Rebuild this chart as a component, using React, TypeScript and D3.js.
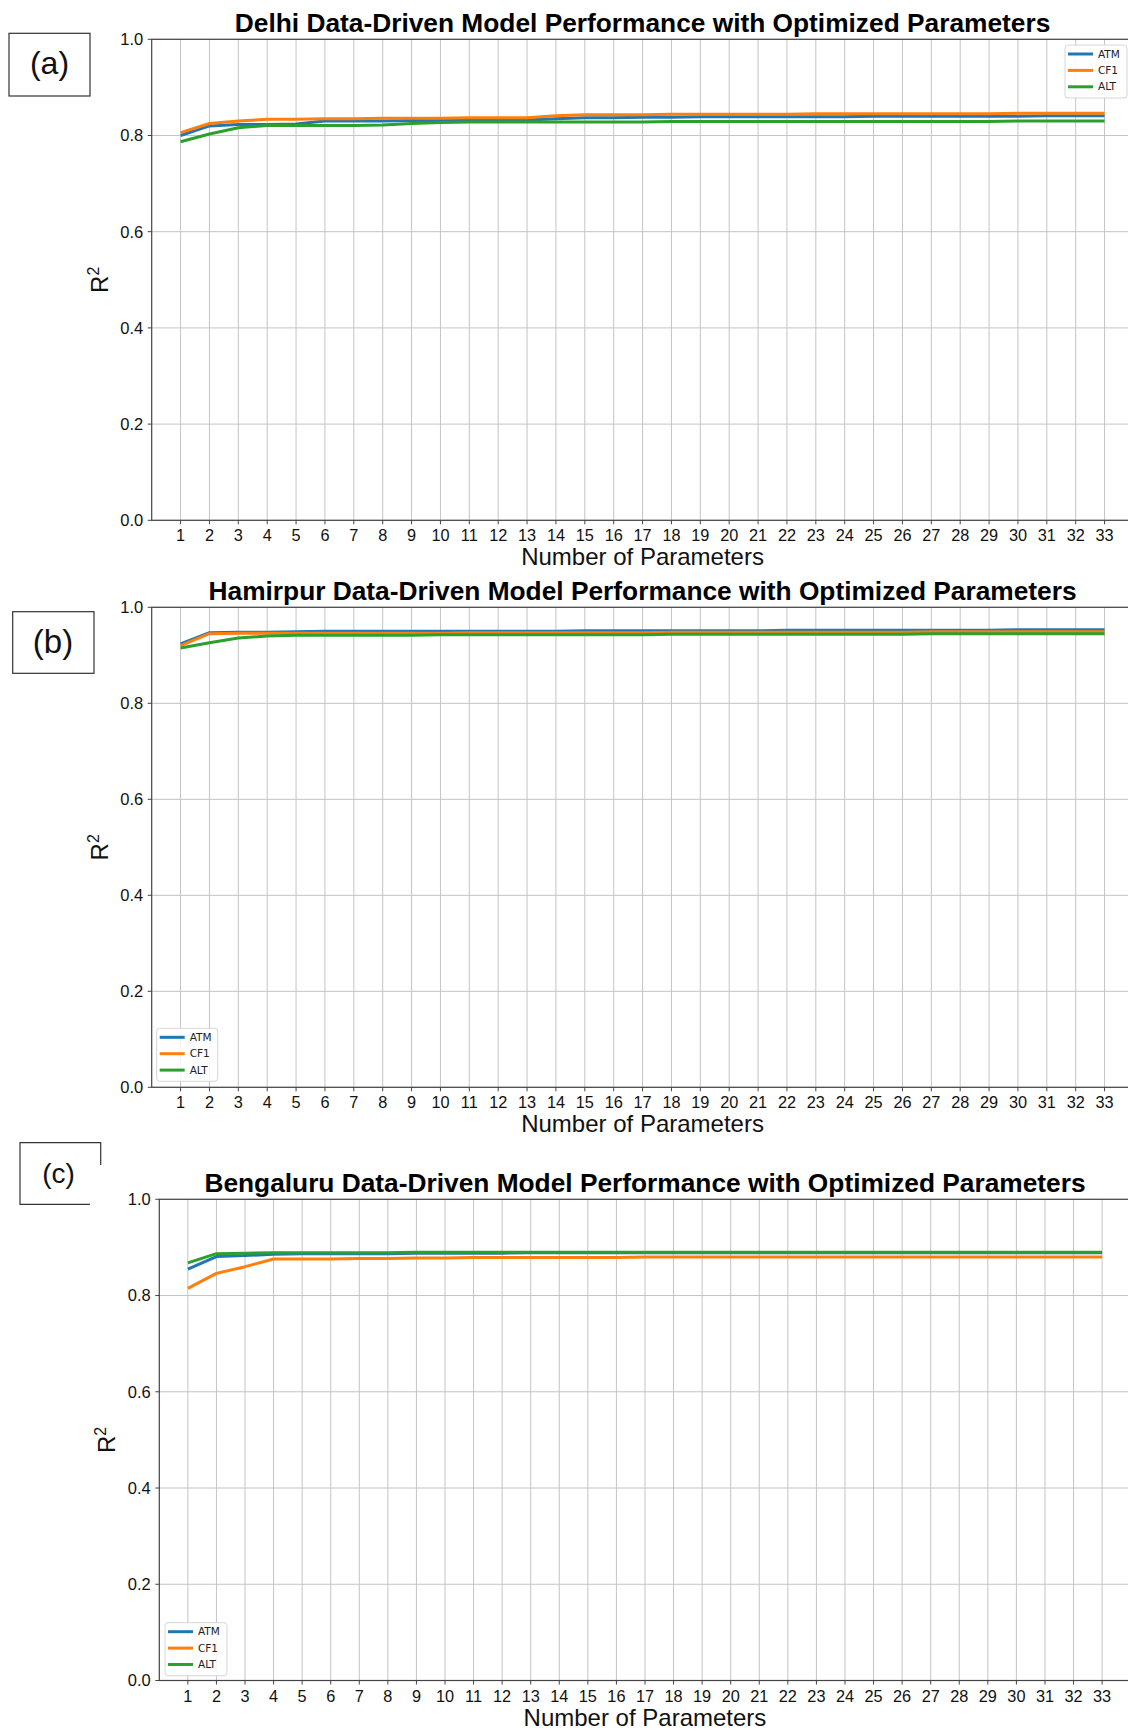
import React from "react";
import * as d3 from "d3";

// ---------- data ----------
const X_PARAMS = [1, 2, 3, 4, 5, 6, 7, 8, 9, 10, 11, 12, 13, 14, 15, 16, 17, 18, 19, 20, 21, 22, 23, 24, 25, 26, 27, 28, 29, 30, 31, 32, 33];
const Y_TICKS = [0, 0.2, 0.4, 0.6, 0.8, 1.0];
const SERIES_NAMES = ["ATM", "CF1", "ALT"];
const SERIES_COLORS = ["#1f77b4", "#ff7f0e", "#2ca02c"];

const DELHI_ATM = [0.800, 0.820, 0.823, 0.823, 0.824, 0.830, 0.830, 0.830, 0.831, 0.831, 0.832, 0.832, 0.832, 0.835, 0.837, 0.837, 0.838, 0.838, 0.839, 0.839, 0.839, 0.839, 0.839, 0.839, 0.840, 0.840, 0.840, 0.840, 0.840, 0.840, 0.841, 0.841, 0.841];
const DELHI_CF1 = [0.806, 0.825, 0.830, 0.834, 0.834, 0.835, 0.835, 0.836, 0.836, 0.836, 0.837, 0.837, 0.837, 0.841, 0.843, 0.843, 0.843, 0.844, 0.844, 0.844, 0.844, 0.844, 0.845, 0.845, 0.845, 0.845, 0.845, 0.845, 0.845, 0.846, 0.846, 0.846, 0.846];
const DELHI_ALT = [0.787, 0.803, 0.816, 0.821, 0.821, 0.821, 0.821, 0.822, 0.825, 0.827, 0.828, 0.828, 0.828, 0.828, 0.828, 0.828, 0.828, 0.829, 0.829, 0.829, 0.829, 0.829, 0.829, 0.829, 0.829, 0.829, 0.829, 0.829, 0.829, 0.830, 0.830, 0.830, 0.830];

const HAMIRPUR_ATM = [0.924, 0.947, 0.948, 0.948, 0.949, 0.950, 0.950, 0.950, 0.950, 0.950, 0.950, 0.950, 0.950, 0.950, 0.951, 0.951, 0.951, 0.951, 0.951, 0.951, 0.951, 0.952, 0.952, 0.952, 0.952, 0.952, 0.952, 0.952, 0.952, 0.953, 0.953, 0.953, 0.953];
const HAMIRPUR_CF1 = [0.920, 0.945, 0.946, 0.946, 0.946, 0.946, 0.946, 0.946, 0.946, 0.946, 0.947, 0.947, 0.947, 0.947, 0.947, 0.947, 0.947, 0.948, 0.948, 0.948, 0.948, 0.948, 0.948, 0.948, 0.948, 0.948, 0.949, 0.949, 0.949, 0.949, 0.949, 0.949, 0.949];
const HAMIRPUR_ALT = [0.915, 0.926, 0.936, 0.940, 0.942, 0.942, 0.942, 0.942, 0.942, 0.943, 0.943, 0.943, 0.943, 0.943, 0.943, 0.943, 0.943, 0.944, 0.944, 0.944, 0.944, 0.944, 0.944, 0.944, 0.944, 0.944, 0.945, 0.945, 0.945, 0.945, 0.945, 0.945, 0.945];

const BENGALURU_ATM = [0.855, 0.881, 0.883, 0.886, 0.887, 0.887, 0.887, 0.887, 0.888, 0.888, 0.888, 0.888, 0.889, 0.889, 0.889, 0.889, 0.889, 0.889, 0.889, 0.889, 0.889, 0.889, 0.889, 0.889, 0.889, 0.889, 0.889, 0.889, 0.889, 0.889, 0.889, 0.889, 0.889];
const BENGALURU_CF1 = [0.815, 0.846, 0.860, 0.876, 0.876, 0.876, 0.877, 0.877, 0.878, 0.878, 0.879, 0.879, 0.879, 0.879, 0.879, 0.879, 0.880, 0.880, 0.880, 0.880, 0.880, 0.880, 0.880, 0.880, 0.880, 0.880, 0.880, 0.880, 0.880, 0.880, 0.880, 0.880, 0.880];
const BENGALURU_ALT = [0.868, 0.887, 0.888, 0.889, 0.889, 0.889, 0.889, 0.889, 0.890, 0.890, 0.890, 0.890, 0.890, 0.890, 0.890, 0.890, 0.890, 0.890, 0.890, 0.890, 0.890, 0.890, 0.890, 0.890, 0.890, 0.890, 0.890, 0.890, 0.890, 0.890, 0.890, 0.890, 0.890];

const TITLES = [
  "Delhi Data-Driven Model Performance with Optimized Parameters",
  "Hamirpur Data-Driven Model Performance with Optimized Parameters",
  "Bengaluru Data-Driven Model Performance with Optimized Parameters",
];
const X_LABEL = "Number of Parameters";

const FONT = "'Liberation Sans', Arial, sans-serif";

type PanelCfg = {
  title: string;
  series: number[][];
  left: number;
  top: number;
  bottom: number;
  unit: number;
  legend: { x: number; y: number; w: number; h: number };
};

const PANELS: PanelCfg[] = [
  {
    title: TITLES[0],
    series: [DELHI_ATM, DELHI_CF1, DELHI_ALT],
    left: 151.7, top: 39.3, bottom: 520.3, unit: 28.875,
    legend: { x: 1065, y: 45, w: 62, h: 53 },
  },
  {
    title: TITLES[1],
    series: [HAMIRPUR_ATM, HAMIRPUR_CF1, HAMIRPUR_ALT],
    left: 151.7, top: 607.3, bottom: 1087.3, unit: 28.875,
    legend: { x: 156.7, y: 1028.3, w: 61, h: 53 },
  },
  {
    title: TITLES[2],
    series: [BENGALURU_ATM, BENGALURU_CF1, BENGALURU_ALT],
    left: 159.3, top: 1199.3, bottom: 1680.5, unit: 28.57,
    legend: { x: 165, y: 1622.7, w: 62, h: 53 },
  },
];

function Panel({ cfg }: { cfg: PanelCfg }) {
  const x = d3.scaleLinear().domain([0, 34]).range([cfg.left, cfg.left + 34 * cfg.unit]);
  const y = d3.scaleLinear().domain([0, 1]).range([cfg.bottom, cfg.top]);
  const line = d3
    .line<number>()
    .x((_, i) => x(X_PARAMS[i]))
    .y((d) => y(d));
  const [x0, x1] = x.range();
  const cx = (x0 + x1) / 2;
  const cy = (cfg.top + cfg.bottom) / 2;
  const lg = cfg.legend;
  return (
    <g>
      {/* grid */}
      {X_PARAMS.map((p) => (
        <line key={"gx" + p} x1={x(p)} x2={x(p)} y1={cfg.top} y2={cfg.bottom} stroke="#c4c4c4" strokeWidth={1} />
      ))}
      {Y_TICKS.map((t) => (
        <line key={"gy" + t} x1={x0} x2={x1} y1={y(t)} y2={y(t)} stroke="#c4c4c4" strokeWidth={1} />
      ))}
      {/* spines */}
      <rect x={x0} y={cfg.top} width={x1 - x0} height={cfg.bottom - cfg.top} fill="none" stroke="#444" strokeWidth={1.2} />
      {/* y ticks */}
      {Y_TICKS.map((t) => (
        <g key={"yt" + t}>
          <line x1={x0 - 4} x2={x0} y1={y(t)} y2={y(t)} stroke="#444" strokeWidth={1} />
          <text x={x0 - 8.5} y={y(t)} dy="0.36em" textAnchor="end" fontFamily={FONT} fontSize={16.5} fill="#111">
            {t.toFixed(1)}
          </text>
        </g>
      ))}
      {/* x ticks */}
      {X_PARAMS.map((p) => (
        <g key={"xt" + p}>
          <line x1={x(p)} x2={x(p)} y1={cfg.bottom} y2={cfg.bottom + 4} stroke="#444" strokeWidth={1} />
          <text x={x(p)} y={cfg.bottom + 21} textAnchor="middle" fontFamily={FONT} fontSize={16.3} fill="#111">
            {p}
          </text>
        </g>
      ))}
      {/* series */}
      {cfg.series.map((s, i) => (
        <path key={"s" + i} d={line(s) || ""} fill="none" stroke={SERIES_COLORS[i]} strokeWidth={3} strokeLinejoin="round" />
      ))}
      {/* title */}
      <text x={cx} y={cfg.top - 7.5} textAnchor="middle" fontFamily={FONT} fontWeight="bold" fontSize={26.3} fill="#000">
        {cfg.title}
      </text>
      {/* x label */}
      <text x={cx} y={cfg.bottom + 45} textAnchor="middle" fontFamily={FONT} fontSize={24} fill="#111">
        {X_LABEL}
      </text>
      {/* y label */}
      <text transform={`translate(${x0 - 44},${cy}) rotate(-90)`} textAnchor="middle" fontFamily={FONT} fontSize={24} fill="#111">
        R<tspan dy={-9} fontSize={16}>2</tspan>
      </text>
      {/* legend */}
      <rect x={lg.x} y={lg.y} width={lg.w} height={lg.h} rx={3} fill="#fff" fillOpacity={0.85} stroke="#d6d6d6" strokeWidth={1} />
      {SERIES_NAMES.map((n, i) => {
        const ry = lg.y + 9 + i * 16.4;
        return (
          <g key={"lg" + n}>
            <line x1={lg.x + 3} x2={lg.x + 28} y1={ry} y2={ry} stroke={SERIES_COLORS[i]} strokeWidth={3} />
            <text x={lg.x + 33} y={ry} dy="0.35em" fontFamily="'DejaVu Sans', sans-serif" fontSize={10.5} fill="#222">
              {n}
            </text>
          </g>
        );
      })}
    </g>
  );
}

export default function App() {
  return (
    <div style={{ position: "absolute", left: 0, top: 0, width: 1128, height: 1731, background: "#fff" }}>
      <svg width={1128} height={1731} viewBox="0 0 1128 1731" style={{ display: "block", overflow: "hidden" }}>
        <rect x={0} y={0} width={1128} height={1731} fill="#fff" />
        {PANELS.map((p, i) => (
          <Panel key={i} cfg={p} />
        ))}
        {/* panel labels */}
        <rect x={9} y={33.3} width={81} height={62.7} fill="none" stroke="#333" strokeWidth={1.2} />
        <text x={49.5} y={73.5} textAnchor="middle" fontFamily={FONT} fontSize={32} fill="#111">(a)</text>
        <rect x={12.7} y={611.7} width={81.3} height={61.6} fill="none" stroke="#333" strokeWidth={1.2} />
        <text x={53} y={653} textAnchor="middle" fontFamily={FONT} fontSize={33} fill="#111">(b)</text>
        <path d="M100.7,1165 L100.7,1142.7 L20,1142.7 L20,1204.3 L90,1204.3" fill="none" stroke="#333" strokeWidth={1.2} />
        <text x={58.5} y={1183} textAnchor="middle" fontFamily={FONT} fontSize={28} fill="#111">(c)</text>
      </svg>
    </div>
  );
}
